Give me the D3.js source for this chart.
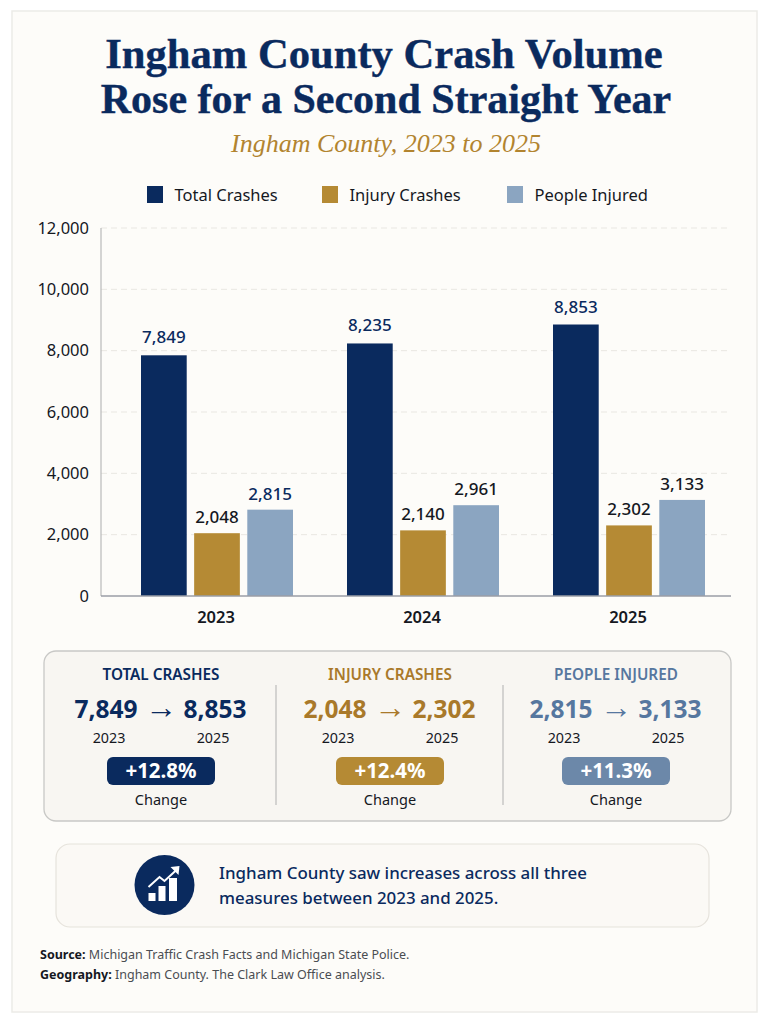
<!DOCTYPE html>
<html lang="en">
<head>
  <meta charset="UTF-8">
  <title>Ingham County Crash Volume</title>
  <script src="https://d3js.org/d3.v7.min.js"></script>
  <style>
    body { margin: 0; background: #ffffff; }
    svg { display: block; }
    text { font-family: "Noto Sans", sans-serif; fill: #15181f; }
    .serif { font-family: "Liberation Serif", serif; }
    .y-axis path, .y-axis .tick line, .x-axis .tick line { display: none; }
  </style>
</head>
<body>
  <div id="chart"></div>

  <script>
    const years = ['2023', '2024', '2025'];
    const seriesNames = ['Total Crashes', 'Injury Crashes', 'People Injured'];
    const totalCrashes = [7849, 8235, 8853];
    const injuryCrashes = [2048, 2140, 2302];
    const peopleInjured = [2815, 2961, 3133];
    const yTicks = [0, 2000, 4000, 6000, 8000, 10000, 12000];
    const changeLabels = ['+12.8%', '+12.4%', '+11.3%'];

    const navy = '#0a2a5e', gold = '#b58a34', steel = '#8ba5c1';
    const seriesColors = [navy, gold, steel];
    const headColors = [navy, '#a9792a', '#56779f'];
    const pillColors = [navy, '#b58a34', '#6c88a9'];
    const allSeries = [totalCrashes, injuryCrashes, peopleInjured];
    const fmt = d3.format(',');

    const svg = d3.select('#chart').append('svg').attr('width', 768).attr('height', 1024);

    // page card
    svg.append('rect').attr('x', 12).attr('y', 11).attr('width', 745).attr('height', 1001)
      .attr('fill', '#fdfcf9').attr('stroke', '#ecebe7').attr('stroke-width', 1.5);

    // title block
    const titleLines = ['Ingham County Crash Volume', 'Rose for a Second Straight Year'];
    svg.selectAll('.title').data(titleLines).enter().append('text')
      .attr('class', 'title serif')
      .attr('x', (d, i) => i === 0 ? 384 : 386).attr('y', (d, i) => 68 + i * 45)
      .attr('text-anchor', 'middle')
      .style('font-size', (d, i) => i === 0 ? '42.6px' : '42px').style('font-weight', 700)
      .style('fill', navy).style('stroke', navy).style('stroke-width', 0.4)
      .text(d => d);

    svg.append('text').attr('class', 'serif')
      .attr('x', 386).attr('y', 152).attr('text-anchor', 'middle')
      .style('font-size', '26px').style('font-style', 'italic').style('fill', '#b2842f')
      .text('Ingham County, 2023 to 2025');

    // legend
    const legendX = [147, 322, 507];
    const legend = svg.selectAll('.legend').data(seriesNames).enter().append('g')
      .attr('class', 'legend')
      .attr('transform', (d, i) => `translate(${legendX[i]},186)`);
    legend.append('rect').attr('width', 16).attr('height', 17)
      .attr('fill', (d, i) => seriesColors[i]);
    legend.append('text').attr('x', 27.5).attr('y', 15)
      .style('font-size', '16.5px').text(d => d);

    // scales
    const y = d3.scaleLinear().domain([0, 12000]).range([596, 228]);
    const x0 = d3.scaleBand().domain(years).range([113, 731]).padding(0);
    const x1 = d3.scaleBand().domain(d3.range(3)).range([28, 180]).paddingInner(0.14);

    // gridlines
    svg.append('g').selectAll('line').data(yTicks.slice(1)).enter().append('line')
      .attr('x1', 101).attr('x2', 731)
      .attr('y1', d => y(d)).attr('y2', d => y(d))
      .attr('stroke', '#e9e7e2').attr('stroke-dasharray', '6 4');

    // axes
    const yAxis = svg.append('g').attr('class', 'y-axis')
      .attr('transform', 'translate(101,0)')
      .call(d3.axisLeft(y).tickValues(yTicks).tickFormat(fmt).tickSize(0).tickPadding(12));
    yAxis.selectAll('text').style('font-size', '16.5px');
    svg.append('line').attr('x1', 101).attr('x2', 101).attr('y1', 228).attr('y2', 596)
      .attr('stroke', '#b9b9b9').attr('stroke-width', 1.2);

    // bars
    const groups = svg.selectAll('.year').data(years).enter().append('g')
      .attr('class', 'year')
      .attr('transform', d => `translate(${x0(d)},0)`);
    groups.each(function (year, yi) {
      const g = d3.select(this);
      allSeries.forEach((vals, si) => {
        g.append('rect')
          .attr('x', x1(si)).attr('width', x1.bandwidth())
          .attr('y', y(vals[yi])).attr('height', y(0) - y(vals[yi]))
          .attr('fill', seriesColors[si]);
        g.append('text')
          .attr('x', x1(si) + x1.bandwidth() / 2)
          .attr('y', y(vals[yi]) - (si === 0 ? 12 : 10))
          .attr('text-anchor', 'middle')
          .style('font-size', '17px').style('font-weight', 500)
          .style('fill', si === 0 || (si === 2 && yi === 0) ? navy : '#15181f')
          .text(fmt(vals[yi]));
      });
    });

    const xAxis = svg.append('g').attr('class', 'x-axis')
      .attr('transform', 'translate(0,596)')
      .call(d3.axisBottom(x0).tickSize(0).tickPadding(15));
    xAxis.select('path').attr('stroke', '#9a9ea6').attr('stroke-width', 1.5).attr('d', 'M101,0H731');
    xAxis.selectAll('text').style('font-size', '16.5px').style('font-weight', 600);

    // summary panel
    svg.append('rect').attr('x', 44).attr('y', 651).attr('width', 687).attr('height', 170).attr('rx', 12)
      .attr('fill', '#f8f6f2').attr('stroke', '#c8c8c6').attr('stroke-width', 1.3);
    svg.selectAll('.divider').data([276, 503]).enter().append('line')
      .attr('class', 'divider')
      .attr('x1', d => d).attr('x2', d => d).attr('y1', 685).attr('y2', 805)
      .attr('stroke', '#bdbdbb').attr('stroke-width', 1.2);

    const colCenter = [161, 390, 616];
    const summaryHeads = ['TOTAL CRASHES', 'INJURY CRASHES', 'PEOPLE INJURED'];
    allSeries.forEach((vals, i) => {
      const c = colCenter[i];
      const col = svg.append('g');
      const first = vals[0], last = vals[vals.length - 1];
      col.append('text').attr('x', c).attr('y', 680).attr('text-anchor', 'middle')
        .style('font-size', '15.3px').style('font-weight', 600).style('fill', headColors[i])
        .text(summaryHeads[i]);
      [[first, -55], [last, 54]].forEach(([v, dx]) => {
        col.append('text').attr('x', c + dx).attr('y', 718).attr('text-anchor', 'middle')
          .style('font-size', '24.5px').style('font-weight', 700).style('fill', headColors[i])
          .text(fmt(v));
      });
      col.append('text').attr('x', c).attr('y', 718).attr('text-anchor', 'middle')
        .style('font-size', '32px').style('fill', headColors[i]).text('→');
      [[years[0], -52], [years[2], 52]].forEach(([t, dx]) => {
        col.append('text').attr('x', c + dx).attr('y', 743).attr('text-anchor', 'middle')
          .style('font-size', '14.3px').text(t);
      });
      col.append('rect').attr('x', c - 54).attr('y', 757).attr('width', 108).attr('height', 28).attr('rx', 6)
        .attr('fill', pillColors[i]);
      col.append('text').attr('x', c).attr('y', 778).attr('text-anchor', 'middle')
        .style('font-size', '20.5px').style('font-weight', 700).style('fill', '#ffffff')
        .text(changeLabels[i]);
      col.append('text').attr('x', c).attr('y', 805).attr('text-anchor', 'middle')
        .style('font-size', '14.5px').text('Change');
    });

    // takeaway box
    svg.append('rect').attr('x', 56).attr('y', 844).attr('width', 653).attr('height', 83).attr('rx', 14)
      .attr('fill', '#fbf9f5').attr('stroke', '#e6e3dc').attr('stroke-width', 1.2);
    const icon = svg.append('g').attr('transform', 'translate(164.5,885)');
    icon.append('circle').attr('r', 30).attr('fill', navy);
    [[-16, 8, 8], [-6, 1, 15], [4.5, -7, 23]].forEach(([bx, by, bh], i) => {
      icon.append('rect').attr('x', bx).attr('y', by).attr('width', i === 2 ? 8 : 7).attr('height', bh).attr('fill', '#ffffff');
    });
    icon.append('path').attr('d', 'M-16,2 L-5,-8 L0,-4 L13,-16')
      .attr('fill', 'none').attr('stroke', '#ffffff').attr('stroke-width', 2);
    icon.append('path').attr('d', 'M6,-18 L15,-19 L14,-10 Z').attr('fill', '#ffffff');

    ['Ingham County saw increases across all three', 'measures between 2023 and 2025.'].forEach((t, i) => {
      svg.append('text').attr('x', 219).attr('y', 879 + i * 25)
        .style('font-size', '16.9px').style('font-weight', 500).style('fill', navy).text(t);
    });

    // footer
    const notes = [
      ['Source:', 'Michigan Traffic Crash Facts and Michigan State Police.'],
      ['Geography:', 'Ingham County. The Clark Law Office analysis.']
    ];
    notes.forEach((n, i) => {
      const t = svg.append('text').attr('x', 40).attr('y', 959 + i * 20).style('font-size', '12.5px');
      t.append('tspan').style('font-weight', 700).text(n[0] + ' ');
      t.append('tspan').style('fill', '#4a4d52').text(n[1]);
    });
  </script>
</body>
</html>
